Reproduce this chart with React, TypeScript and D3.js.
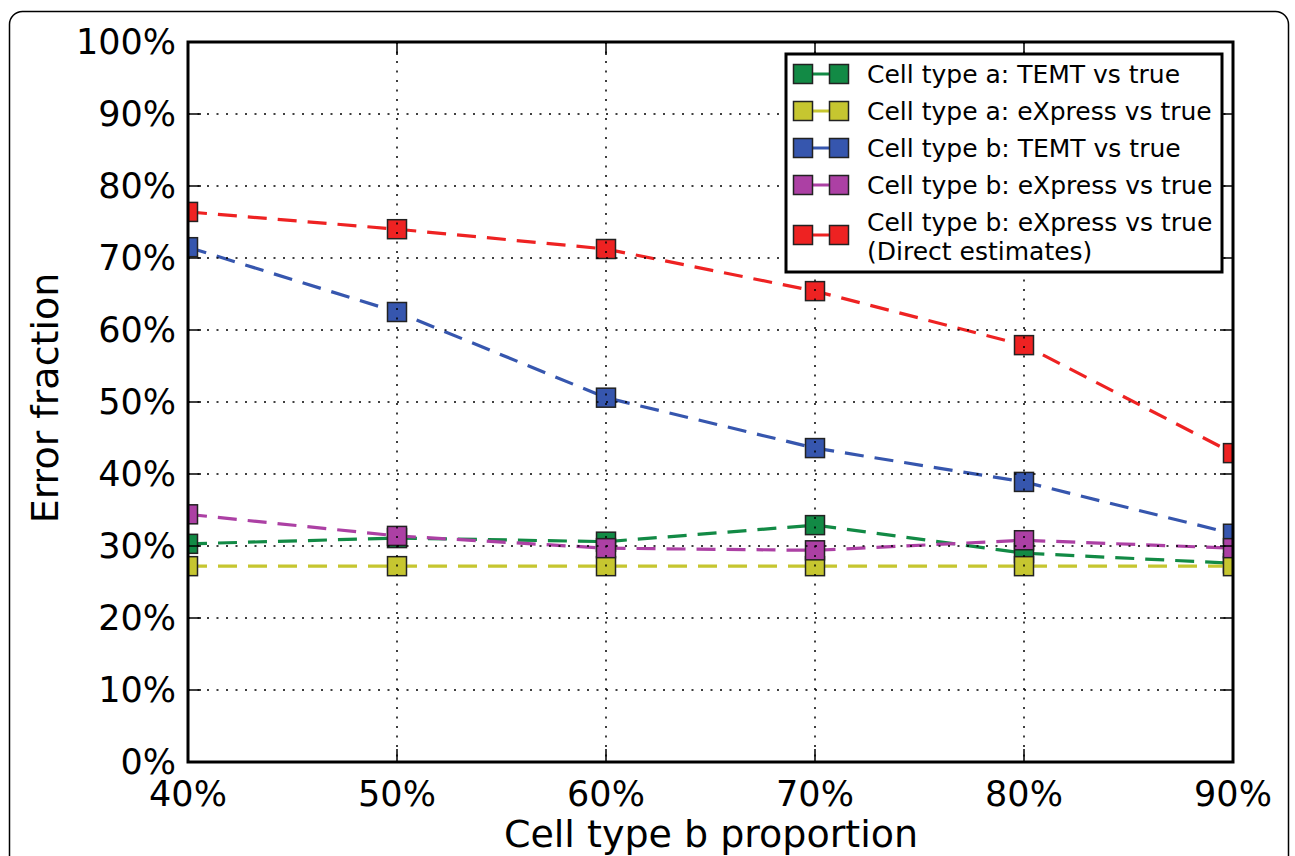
import * as d3 from 'd3';

const proportions = [40, 50, 60, 70, 80, 90];
const yTicks = [0, 10, 20, 30, 40, 50, 60, 70, 80, 90, 100];

const typeATemt = [30.3, 31.1, 30.6, 32.9, 29.0, 27.6];
const typeAExpress = [27.2, 27.2, 27.2, 27.2, 27.2, 27.2];
const typeBTemt = [71.5, 62.5, 50.6, 43.6, 38.9, 31.7];
const typeBExpress = [34.4, 31.4, 29.7, 29.4, 30.8, 29.7];
const typeBDirect = [76.4, 74.0, 71.25, 65.4, 57.9, 42.9];

const seriesNames = [
  ['Cell type a: TEMT vs true'],
  ['Cell type a: eXpress vs true'],
  ['Cell type b: TEMT vs true'],
  ['Cell type b: eXpress vs true'],
  ['Cell type b: eXpress vs true', '(Direct estimates)'],
];
const seriesColors = ['#128a45', '#c6c630', '#3656ae', '#ac40a4', '#ee2222'];
const seriesValues = [typeATemt, typeAExpress, typeBTemt, typeBExpress, typeBDirect];

const W = 1295;
const H = 856;
const plot = { left: 188, top: 42, right: 1233, bottom: 762 };
const font = 'DejaVu Sans, sans-serif';
const MS = 19;

export default function App() {
  const x = d3.scaleLinear().domain([40, 90]).range([plot.left, plot.right]);
  const y = d3.scaleLinear().domain([0, 100]).range([plot.bottom, plot.top]);
  const line = d3.line<number>()
    .x((_, i) => x(proportions[i]))
    .y(d => y(d));

  return (
    <svg width={W} height={H} style={{ position: 'absolute', left: 0, top: 0 }} fontFamily={font}>
      <rect x={0} y={0} width={W} height={H} fill="#fff" />
      <rect x={9.5} y={11.5} width={1279} height={870} rx={13} fill="none" stroke="#000" strokeWidth={1.5} />

      <defs>
        <clipPath id="plotclip">
          <rect x={plot.left} y={plot.top} width={plot.right - plot.left} height={plot.bottom - plot.top} />
        </clipPath>
      </defs>

      <g clipPath="url(#plotclip)">
        {seriesValues.map((vals, si) => (
          <g key={si}>
            <path d={line(vals) ?? ''} fill="none" stroke={seriesColors[si]} strokeWidth={3.2}
              strokeDasharray="19,11" />
            {vals.map((v, i) => (
              <rect key={i} x={x(proportions[i]) - MS / 2} y={y(v) - MS / 2} width={MS} height={MS}
                fill={seriesColors[si]} stroke="#222" strokeWidth={1.5} />
            ))}
          </g>
        ))}
      </g>

      {/* grid on top, as in the original */}
      <g stroke="#000" strokeWidth={1.5} strokeDasharray="2,7.5">
        {yTicks.slice(1, -1).map(t => (
          <line key={'gy' + t} x1={plot.left} x2={plot.right} y1={y(t)} y2={y(t)} />
        ))}
        {proportions.slice(1, -1).map(p => (
          <line key={'gx' + p} x1={x(p)} x2={x(p)} y1={plot.top} y2={plot.bottom} />
        ))}
      </g>

      {/* ticks, inward on all four sides */}
      <g stroke="#000" strokeWidth={1.5}>
        {yTicks.map(t => (
          <g key={'ty' + t}>
            <line x1={plot.left} x2={plot.left + 13} y1={y(t)} y2={y(t)} />
            <line x1={plot.right - 13} x2={plot.right} y1={y(t)} y2={y(t)} />
          </g>
        ))}
        {proportions.map(p => (
          <g key={'tx' + p}>
            <line x1={x(p)} x2={x(p)} y1={plot.bottom} y2={plot.bottom - 13} />
            <line x1={x(p)} x2={x(p)} y1={plot.top} y2={plot.top + 13} />
          </g>
        ))}
      </g>

      <rect x={plot.left} y={plot.top} width={plot.right - plot.left} height={plot.bottom - plot.top}
        fill="none" stroke="#000" strokeWidth={3} />

      <g fontSize={35} fill="#000">
        {yTicks.map(t => (
          <text key={'ly' + t} x={plot.left - 12} y={y(t) + 12} textAnchor="end">{t}%</text>
        ))}
        {proportions.map(p => (
          <text key={'lx' + p} x={x(p)} y={plot.bottom + 44} textAnchor="middle">{p}%</text>
        ))}
      </g>

      <text x={711} y={847} fontSize={38} textAnchor="middle">Cell type b proportion</text>
      <text transform={`translate(58,398) rotate(-90)`} fontSize={38} textAnchor="middle">Error fraction</text>

      {/* legend */}
      <g>
        <rect x={786} y={54} width={436} height={218} fill="#fff" stroke="#000" strokeWidth={3} />
        {seriesNames.map((names, si) => {
          const cy = si < 4 ? 74 + si * 37 : 235;
          return (
            <g key={'lg' + si}>
              <line x1={803} x2={839} y1={cy} y2={cy} stroke={seriesColors[si]} strokeWidth={3} />
              <rect x={803 - MS / 2} y={cy - MS / 2} width={MS} height={MS} fill={seriesColors[si]} stroke="#222" strokeWidth={1.5} />
              <rect x={839 - MS / 2} y={cy - MS / 2} width={MS} height={MS} fill={seriesColors[si]} stroke="#222" strokeWidth={1.5} />
              {names.map((n, k) => (
                <text key={k} x={867} y={(si < 4 ? cy : 222) + 9 + k * 29} fontSize={25}>{n}</text>
              ))}
            </g>
          );
        })}
      </g>
    </svg>
  );
}
